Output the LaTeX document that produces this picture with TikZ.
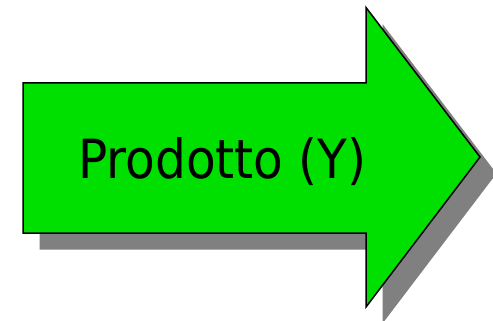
\documentclass[tikz,border=0pt]{standalone}
\usepackage{fontspec}
\newfontfamily\arrowfont{DejaVu Sans Condensed}
\definecolor{arrowgreen}{RGB}{0,224,0}
\definecolor{shadowgray}{RGB}{128,128,128}
\tikzset{
  arrowbody/.style={fill=arrowgreen, draw=black, line width=1.5pt, line join=miter},
  arrowshadow/.style={fill=shadowgray},
  labeltext/.style={font=\arrowfont\fontsize{54}{54}\selectfont, inner sep=0pt, anchor=base}
}
\begin{document}
\begin{tikzpicture}[x=1pt,y=-1pt]
\useasboundingbox (0,0) rectangle (493,321);
\clip (0,0) rectangle (493,321);
\begin{scope}[shift={(16.5,16.5)}]
\path[arrowshadow] (23,83) -- (366,83) -- (366,7.5) -- (480,157) -- (366,307) -- (366,233) -- (23,233) -- cycle;
\end{scope}
\path[arrowbody] (23,83) -- (366,83) -- (366,7.5) -- (480,157) -- (366,307) -- (366,233) -- (23,233) -- cycle;
\node[labeltext] (label) at (222.5,178) {Prodotto (Y)};
\end{tikzpicture}
\end{document}
